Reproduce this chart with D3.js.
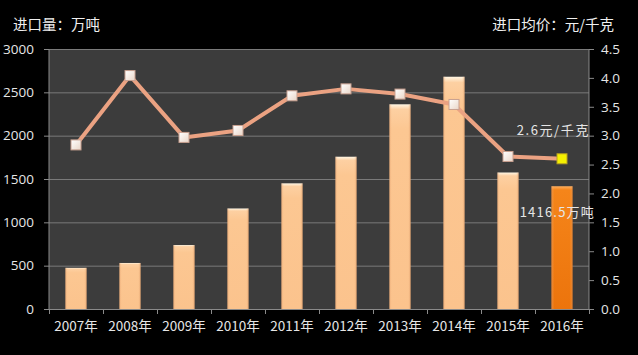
<!DOCTYPE html>
<html><head><meta charset="utf-8">
<script src="https://cdn.jsdelivr.net/npm/d3@7"></script>
<style>
html,body{margin:0;padding:0;background:#000;}
svg{display:block;}
text{font-family:"Noto Sans CJK SC","Noto Sans",sans-serif;}
</style></head>
<body>
<svg id="c" width="638" height="355"></svg>
<script>
const years = ["2007年","2008年","2009年","2010年","2011年","2012年","2013年","2014年","2015年","2016年"];
const volume = [475, 531, 738, 1160, 1450, 1757, 2362, 2680, 1575, 1416.5];
const price = [2.84, 4.04, 2.97, 3.09, 3.69, 3.81, 3.72, 3.54, 2.64, 2.6];
const leftTicks = [0, 500, 1000, 1500, 2000, 2500, 3000];
const rightTicks = [0, 0.5, 1, 1.5, 2, 2.5, 3, 3.5, 4, 4.5];
const leftTitle = "进口量：万吨";
const rightTitle = "进口均价：元/千克";
const priceLabel = "2.6元/千克";
const volumeLabel = "1416.5万吨";

const svg = d3.select("#c");
const m = {l:49, r:589, t:49, b:309};

const x = d3.scaleBand().domain(years).range([m.l, m.r]).paddingInner(0.61).paddingOuter(0.305);
const xb = d3.scaleBand().domain(years).range([m.l, m.r]);
const yL = d3.scaleLinear().domain([0,3000]).range([m.b, m.t]);
const yR = d3.scaleLinear().domain([0,4.5]).range([m.b, m.t]);

const defs = svg.append("defs");
const g1 = defs.append("linearGradient").attr("id","barg").attr("x1",0).attr("y1",0).attr("x2",0).attr("y2",1);
g1.append("stop").attr("offset","0").attr("stop-color","#fff6e4");
g1.append("stop").attr("offset","0.025").attr("stop-color","#fdd0a2");
g1.append("stop").attr("offset","0.12").attr("stop-color","#fcc792");
g1.append("stop").attr("offset","1").attr("stop-color","#fbc38d");
const g1h = defs.append("linearGradient").attr("id","barh").attr("x1",0).attr("y1",0).attr("x2",1).attr("y2",0);
g1h.append("stop").attr("offset","0").attr("stop-color","#d89060").attr("stop-opacity",0.5);
g1h.append("stop").attr("offset","0.12").attr("stop-color","#fbc38d").attr("stop-opacity",0);
g1h.append("stop").attr("offset","0.88").attr("stop-color","#fbc38d").attr("stop-opacity",0);
g1h.append("stop").attr("offset","1").attr("stop-color","#c88050").attr("stop-opacity",0.5);
const g2 = defs.append("linearGradient").attr("id","barg2").attr("x1",0).attr("y1",0).attr("x2",0).attr("y2",1);
g2.append("stop").attr("offset","0").attr("stop-color","#ffb060");
g2.append("stop").attr("offset","0.03").attr("stop-color","#f5851a");
g2.append("stop").attr("offset","1").attr("stop-color","#ec740c");
const g3 = defs.append("linearGradient").attr("id","mk").attr("x1",0).attr("y1",0).attr("x2",1).attr("y2",1);
g3.append("stop").attr("offset","0").attr("stop-color","#ffffff");
g3.append("stop").attr("offset","1").attr("stop-color","#ead6c8");

// plot background
svg.append("rect").attr("x",m.l).attr("y",m.t).attr("width",m.r-m.l).attr("height",m.b-m.t).attr("fill","#3c3c3c");

// gridlines
svg.append("g").selectAll("line").data(leftTicks.filter(d=>d>0)).join("line")
  .attr("x1",m.l).attr("x2",m.r).attr("y1",d=>yL(d)+0.5).attr("y2",d=>yL(d)+0.5)
  .attr("stroke","#7a7a7a").attr("stroke-width",1);

// axes
const axL = svg.append("g").attr("transform",`translate(${m.l},0)`)
  .call(d3.axisLeft(yL).tickValues(leftTicks).tickSize(5).tickPadding(10).tickFormat(d3.format("d")));
const axR = svg.append("g").attr("transform",`translate(${m.r},0)`)
  .call(d3.axisRight(yR).tickValues(rightTicks).tickSize(5).tickPadding(7).tickFormat(d3.format(".1f")));
const axB = svg.append("g").attr("transform",`translate(0,${m.b})`)
  .call(d3.axisBottom(xb).tickSize(0).tickPadding(12));
svg.append("g").selectAll("line").data(years.concat(["end"])).join("line")
  .attr("x1",(d,i)=>m.l + i*xb.step()+0.5).attr("x2",(d,i)=>m.l + i*xb.step()+0.5)
  .attr("y1",m.b).attr("y2",m.b+5).attr("stroke","#8a8a8a");
[axL,axR,axB].forEach(a=>{
  a.selectAll("path.domain").attr("stroke","#8a8a8a");
  a.selectAll(".tick line").attr("stroke","#8a8a8a");
  a.selectAll("text").attr("fill","#e6e6e6").style("font-size","13.5px")
   .style("font-family","'Open Sans','Noto Sans',sans-serif");
});
axL.select("path.domain").attr("d",`M-5,${m.t}.5H0V${m.b}.5H-5`);
axR.select("path.domain").attr("d",`M5,${m.t}.5H0V${m.b}.5H5`);
axB.select("path.domain").attr("d",`M${m.l},0.5H${m.r}`);
axB.selectAll("text").style("font-family","'Noto Sans CJK SC',sans-serif").style("font-size","13.5px");

// bars
const bars = svg.append("g");
bars.selectAll("rect.b").data(years).join("rect").attr("class","b")
  .attr("x",d=>x(d)).attr("width",x.bandwidth())
  .attr("y",(d,i)=>yL(volume[i])).attr("height",(d,i)=>yL(0)-yL(volume[i]))
  .attr("fill",(d,i)=>i===years.length-1?"url(#barg2)":"url(#barg)");
bars.selectAll("rect.h").data(years).join("rect").attr("class","h")
  .attr("x",d=>x(d)).attr("width",x.bandwidth())
  .attr("y",(d,i)=>yL(volume[i])).attr("height",(d,i)=>yL(0)-yL(volume[i]))
  .attr("fill","url(#barh)");

// line
const cx = d => xb(d) + xb.bandwidth()/2;
const line = d3.line().x((d,i)=>cx(years[i])).y(d=>yR(d));
svg.append("path").datum(price).attr("d",line)
  .attr("fill","none").attr("stroke","#eba282").attr("stroke-width",4).attr("stroke-linejoin","round");

const ms = 10;
svg.append("g").selectAll("rect").data(price).join("rect")
  .attr("x",(d,i)=>cx(years[i])-ms/2).attr("y",d=>yR(d)-ms/2)
  .attr("width",ms).attr("height",ms)
  .attr("fill",(d,i)=>i===price.length-1?"#f5f000":"url(#mk)")
  .attr("stroke",(d,i)=>i===price.length-1?"#b8a020":"#c8a090").attr("stroke-width",1);

// annotations
const last = years.length-1;
svg.append("text").attr("x",cx(years[last])+28).attr("y",yR(price[last])-24)
  .attr("text-anchor","end").attr("fill","#e6e6e6").style("font-size","13px").style("letter-spacing","1.6px")
  .text(priceLabel);
svg.append("text").attr("x",cx(years[last])+33).attr("y",yL(volume[last])+31)
  .attr("text-anchor","end").attr("fill","#e6e6e6").style("font-size","13px").style("letter-spacing","1.2px")
  .text(volumeLabel);

// titles
svg.append("text").attr("x",13).attr("y",30).attr("fill","#f0f0f0").style("font-size","14.5px").text(leftTitle);
svg.append("text").attr("x",614).attr("y",30).attr("text-anchor","end").attr("fill","#f0f0f0").style("font-size","14.5px").text(rightTitle);
</script>
</body></html>
